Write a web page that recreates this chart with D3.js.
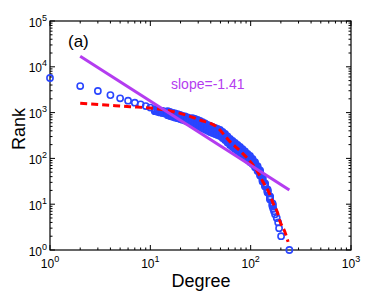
<!DOCTYPE html>
<meta charset="utf-8">
<style>
body { margin: 0; background: #fff; }
svg { font-family: "Liberation Sans", Arial, sans-serif; }
.tick-line { stroke: #000; stroke-width: 1; }
</style>
<div class="chart"></div>
<script src="https://d3js.org/d3.v7.min.js"></script>
<script>

// sparse points at low degree: [degree, rank]
var headPoints = [
  [1, 5700], [2, 3800], [3, 2960], [4, 2410], [5, 2050], [6, 1820],
  [7, 1645], [8, 1515], [9, 1390], [10, 1290]
];

// dense band: degree, middle rank and the spread of ranks (ratio) at that degree
var bandDeg = [11.1, 11.8, 12.5, 13.2, 14.0, 14.9, 15.7, 16.7, 17.6, 18.7,
  19.8, 20.9, 22.2, 23.5, 24.9, 26.3, 27.9, 29.6, 31.3, 33.1,
  35.1, 37.2, 39.4, 41.7, 44.2, 46.8, 49.5, 52.5, 55.6, 58.8,
  62.3, 66, 69.9, 74, 78.4, 83, 87.9, 93.1, 98.6, 104.4,
  110.6, 117.2, 124.1, 131.4, 139.2, 147.4, 156.1, 165.3];
var bandRank = [1128, 1094, 1057, 1031, 1005, 970, 932, 895, 864, 834,
  801, 770, 743, 707, 672, 649, 623, 593, 564, 531,
  497, 466, 438, 417, 397, 377, 359, 324, 293, 259,
  228, 206, 187, 169, 153, 137, 122, 108, 97, 86,
  73, 60, 48, 35.5, 26.3, 19.4, 13.7, 9.6];
var bandSpread = [1.05, 1.05, 1.05, 1.05, 1.05, 1.106, 1.106, 1.106, 1.106, 1.106,
  1.106, 1.106, 1.106, 1.106, 1.106, 1.163, 1.163, 1.163, 1.163, 1.163,
  1.163, 1.163, 1.163, 1.163, 1.163, 1.163, 1.163, 1.163, 1.163, 1.163,
  1.163, 1.163, 1.163, 1.163, 1.163, 1.163, 1.163, 1.163, 1.163, 1.134,
  1.134, 1.134, 1.134, 1.134, 1.078, 1.078, 1.078, 1.078];

// tail points at high degree: [degree, rank]
var tailPoints = [
  [168, 8], [171, 7], [175, 6], [182, 5], [188, 4], [192, 3], [201, 2], [243, 1]
];

// red dashed fit
var fitDeg  = [2, 3.15, 6.27, 9.9, 17.6, 24.8, 31.2, 46, 62.2, 80, 102, 118, 133, 156, 167, 184, 197, 219, 236];
var fitRank = [1600, 1500, 1345, 1260, 1030, 830, 690, 485, 232, 140, 79, 50, 30.5, 16, 10.6, 6.8, 4.1, 2.5, 1.5];

// purple power-law line
var slopeDeg  = [2, 243];
var slopeRank = [17000, 20.4];

var xDecades = [0, 1, 2, 3];
var yDecades = [0, 1, 2, 3, 4, 5];

var width = 388, height = 292;
var mLeft = 50, mRight = 351, mTop = 21, mBottom = 250;

var svg = d3.select(".chart").append("svg")
    .attr("width", width)
    .attr("height", height);

var x = d3.scaleLog().domain([1, 1000]).range([mLeft, mRight]);
var y = d3.scaleLog().domain([1, 1e5]).range([mBottom, mTop]);

// minor tick values 2..9 in each decade
function logTicks(decades) {
  var out = [];
  decades.forEach(function(e, i) {
    if (i == decades.length - 1) return;
    for (var m = 2; m <= 9; m++) out.push(m * Math.pow(10, e));
  });
  return out;
}
var xMajor = xDecades.map(function(e) { return Math.pow(10, e); });
var yMajor = yDecades.map(function(e) { return Math.pow(10, e); });
var xMinor = logTicks(xDecades);
var yMinor = logTicks(yDecades);

var axes = svg.append("g");

function xticks(vals, len) {
  vals.forEach(function(v) {
    var px = x(v);
    axes.append("line").attr("class", "tick-line")
      .attr("x1", px).attr("x2", px).attr("y1", mBottom).attr("y2", mBottom - len);
    axes.append("line").attr("class", "tick-line")
      .attr("x1", px).attr("x2", px).attr("y1", mTop).attr("y2", mTop + len);
  });
}
function yticks(vals, len) {
  vals.forEach(function(v) {
    var py = y(v);
    axes.append("line").attr("class", "tick-line")
      .attr("x1", mLeft).attr("x2", mLeft + len).attr("y1", py).attr("y2", py);
    axes.append("line").attr("class", "tick-line")
      .attr("x1", mRight).attr("x2", mRight - len).attr("y1", py).attr("y2", py);
  });
}
xticks(xMajor, 5);
xticks(xMinor, 2.5);
yticks(yMajor, 5);
yticks(yMinor, 2.5);

axes.append("rect")
    .attr("x", mLeft).attr("y", mTop)
    .attr("width", mRight - mLeft).attr("height", mBottom - mTop)
    .attr("fill", "none").attr("stroke", "#000").attr("stroke-width", 1.2);

// tick labels with superscripts
xDecades.forEach(function(e) {
  var t = svg.append("text")
      .attr("x", x(Math.pow(10, e)))
      .attr("y", 268)
      .attr("text-anchor", "middle")
      .style("font-size", "12px");
  t.append("tspan").text("10");
  t.append("tspan").attr("dy", -6).style("font-size", "9px").text(e);
});
yDecades.forEach(function(e) {
  var t = svg.append("text")
      .attr("x", 47)
      .attr("y", y(Math.pow(10, e)) + 5.5)
      .attr("text-anchor", "end")
      .style("font-size", "12px");
  t.append("tspan").text("10");
  t.append("tspan").attr("dy", -6).style("font-size", "9px").text(e);
});

// axis titles
svg.append("text")
    .attr("x", 201).attr("y", 287)
    .attr("text-anchor", "middle")
    .style("font-size", "18px")
    .text("Degree");
svg.append("text")
    .attr("transform", "translate(25,129) rotate(-90)")
    .attr("text-anchor", "middle")
    .style("font-size", "18px")
    .text("Rank");

// data points: each band degree holds a small stack of ranks
var pts = headPoints.slice();
bandDeg.forEach(function(d, i) {
  [1, 0.5, 0, -0.5, -1].forEach(function(k) {
    pts.push([d, bandRank[i] * Math.pow(bandSpread[i], k)]);
  });
});
pts = pts.concat(tailPoints);

var plot = svg.append("g");

plot.selectAll("circle")
    .data(pts)
    .enter()
    .append("circle")
    .attr("cx", function(d) { return x(d[0]); })
    .attr("cy", function(d) { return y(d[1]); })
    .attr("r", 3.1)
    .attr("fill", "none")
    .attr("stroke", "#2a46ff")
    .attr("stroke-width", 1.6);

var fitLine = d3.line()
    .x(function(d, i) { return x(fitDeg[i]); })
    .y(function(d, i) { return y(fitRank[i]); })
    .curve(d3.curveMonotoneX);

plot.append("path")
    .attr("d", fitLine(fitDeg))
    .attr("fill", "none")
    .attr("stroke", "#ff0000")
    .attr("stroke-width", 3)
    .attr("stroke-dasharray", "7,4");

plot.append("line")
    .attr("x1", x(slopeDeg[0])).attr("y1", y(slopeRank[0]))
    .attr("x2", x(slopeDeg[1])).attr("y2", y(slopeRank[1]))
    .attr("stroke", "#b43cf0")
    .attr("stroke-width", 3);

svg.append("text")
    .attr("x", 171).attr("y", 89)
    .attr("fill", "#b43cf0")
    .style("font-size", "14px")
    .text("slope=-1.41");

svg.append("text")
    .attr("x", 68).attr("y", 47)
    .style("font-size", "17px")
    .text("(a)");

</script>
